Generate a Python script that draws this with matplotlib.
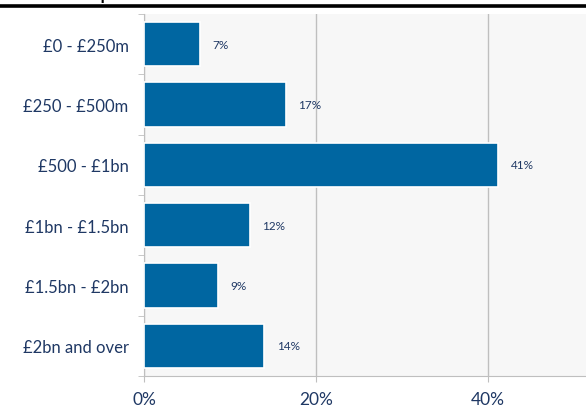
import numpy as np, matplotlib; matplotlib.use("Agg")
import matplotlib.pyplot as plt
from matplotlib.ticker import FixedLocator

categories = ["£0 - £250m", "£250 - £500m", "£500 - £1bn", "£1bn - £1.5bn", "£1.5bn - £2bn", "£2bn and over"]
shares = [6.5, 16.5, 41.2, 12.3, 8.6, 14.0]
share_labels = ["7%", "17%", "41%", "12%", "9%", "14%"]
xticks = [0, 20, 40]
title = "Market capitalisation - Mid 250"

navy = "#1F3864"; blue = "#0066A1"; grey = "#BFBFBF"
plt.rcParams["font.family"] = ["Lato", "DejaVu Sans"]

W, H = 586, 410
fig = plt.figure(figsize=(W/100, H/100), dpi=100)
ax = fig.add_axes([144/W, (H-377)/H, (W-144)/W, 362/H])
ax.set_facecolor("#F7F7F7")

y = np.arange(len(categories))
ax.barh(y, shares, height=0.74, color=blue, edgecolor="white", linewidth=1.2, zorder=3)
for yi, v, lab in zip(y, shares, share_labels):
    ax.annotate(lab, (v, yi), xytext=(9, 0), textcoords="offset points",
                va="center", ha="left", fontsize=8.5, color=navy, zorder=4)

ax.set_ylim(len(categories)-0.5, -0.5)
ax.set_xlim(0, 51.4)
ax.set_yticks(y, categories, fontsize=12, color=navy)
ax.yaxis.set_minor_locator(FixedLocator(np.arange(-0.5, len(categories), 1)))
ax.tick_params(axis="y", which="major", length=0, pad=11)
ax.tick_params(axis="y", which="minor", length=4, color=grey)
ax.set_xticks(xticks, [f"{t}%" for t in xticks], fontsize=12.5, color=navy)
ax.tick_params(axis="x", length=4, color=grey, pad=7)
ax.grid(axis="x", color=grey, lw=1, zorder=0)
for s in ("top", "right"): ax.spines[s].set_visible(False)
for s in ("left", "bottom"): ax.spines[s].set_color(grey)

# header cut off by the top edge, and the rule under it
fig.add_artist(plt.Line2D([0, 1], [1-6.5/H, 1-6.5/H], color="black", lw=2.6))
fig.text(26/W, 1+0.3/H, title, fontsize=12, fontweight="bold", color="black", va="baseline")

fig.savefig("out.png", dpi=100)
